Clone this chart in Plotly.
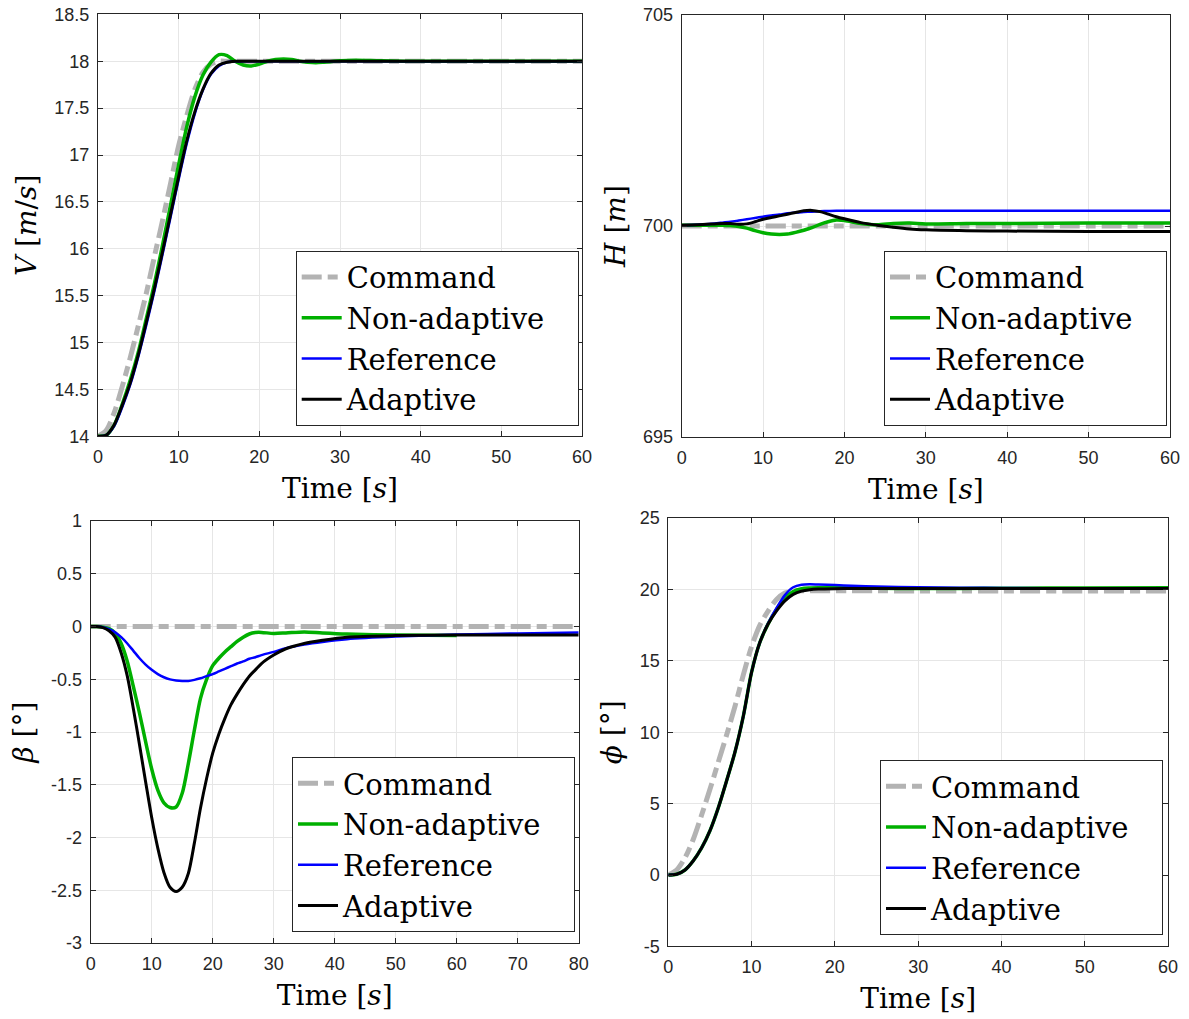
import plotly.graph_objects as go

# ---------------- airspeed V ----------------
t_v = [0, 1, 2, 3, 4, 5, 6, 7, 8, 9, 10, 11, 12, 13, 14, 15, 16, 17, 18, 19, 20,
       21, 22, 23, 24, 25, 26, 27, 28, 30, 32, 35, 40, 50, 60]
v_command = [14.0, 14.06, 14.25, 14.53, 14.84, 15.18, 15.53, 15.92, 16.3, 16.7, 17.1,
             17.42, 17.7, 17.88, 17.97, 18.0, 18.0, 18.0, 18.0, 18.0, 18.0,
             18.0, 18.0, 18.0, 18.0, 18.0, 18.0, 18.0, 18.0, 18.0, 18.0, 18.0, 18.0, 18.0, 18.0]
v_nonadaptive = [14.0, 14.01, 14.12, 14.34, 14.6, 14.9, 15.26, 15.63, 16.04, 16.47, 16.9,
                 17.3, 17.62, 17.85, 17.99, 18.07, 18.06, 18.0, 17.96, 17.95, 17.97,
                 18.0, 18.02, 18.025, 18.02, 18.0, 17.99, 17.985, 17.99, 18.005, 18.01,
                 18.005, 18.0, 18.0, 18.0]
v_reference = [14.0, 14.01, 14.11, 14.31, 14.55, 14.85, 15.19, 15.55, 15.94, 16.34, 16.74,
               17.12, 17.44, 17.69, 17.86, 17.95, 17.99, 18.0, 18.0, 18.0, 18.0,
               18.0, 18.0, 18.0, 18.0, 18.0, 18.0, 18.0, 18.0, 18.0, 18.0, 18.0, 18.0, 18.0, 18.0]
v_adaptive = [14.0, 14.01, 14.12, 14.33, 14.57, 14.87, 15.22, 15.58, 15.97, 16.37, 16.77,
              17.15, 17.46, 17.7, 17.87, 17.96, 17.99, 18.0, 18.0, 18.0, 18.0,
              18.0, 18.0, 18.0, 18.0, 18.0, 18.0, 18.0, 18.0, 18.0, 18.0, 18.0, 18.0, 18.0, 18.0]

# ---------------- altitude H ----------------
t_h = [0, 2, 4, 5, 6, 7, 8, 9, 10, 11, 12, 13, 14, 15, 16, 17, 18, 19, 20,
       22, 24, 26, 28, 30, 35, 40, 50, 60]
h_command = [700.0] * len(t_h)
h_nonadaptive = [700.02, 700.02, 700.02, 700.02, 700.01, 699.99, 699.95, 699.89, 699.84,
                 699.81, 699.8, 699.81, 699.85, 699.9, 699.96, 700.04, 700.1, 700.14, 700.13,
                 700.06, 700.03, 700.06, 700.07, 700.05, 700.06, 700.06, 700.07, 700.07]
h_reference = [700.02, 700.03, 700.06, 700.08, 700.1, 700.13, 700.16, 700.19, 700.22,
               700.25, 700.27, 700.3, 700.32, 700.33, 700.34, 700.35, 700.355, 700.36, 700.36,
               700.36, 700.36, 700.36, 700.36, 700.36, 700.36, 700.36, 700.36, 700.36]
h_adaptive = [700.02, 700.03, 700.05, 700.06, 700.06, 700.04, 700.05, 700.1, 700.16,
              700.2, 700.24, 700.28, 700.32, 700.36, 700.37, 700.34, 700.28, 700.22, 700.17,
              700.08, 700.02, 699.97, 699.93, 699.91, 699.89, 699.88, 699.87, 699.87]

# ---------------- sideslip beta ----------------
t_beta = [0, 1, 2, 3, 4, 5, 6, 7, 8, 9, 10, 11, 12, 13, 14, 15, 16, 17, 18, 19, 20,
          21, 22, 23, 24, 25, 26, 27, 28, 30, 32, 35, 38, 42, 50, 60, 70, 80]
t_beta_nonadaptive = [0, 1, 2, 3, 4, 5, 6, 7, 8, 9, 10, 11, 12, 13, 14, 15, 16, 17, 18, 19, 20,
                      21, 22, 23, 24, 25, 26, 27, 28, 30, 32, 35, 38, 42, 50, 60]
t_beta_command = [0, 80]
beta_command = [0.0, 0.0]
beta_nonadaptive = [0.0, 0.0, -0.005, -0.02, -0.06, -0.16, -0.33, -0.57, -0.82, -1.09, -1.35,
                    -1.55, -1.67, -1.715, -1.71, -1.58, -1.3, -0.98, -0.68, -0.5, -0.37,
                    -0.3, -0.24, -0.19, -0.14, -0.1, -0.07, -0.056, -0.055, -0.065, -0.06,
                    -0.05, -0.06, -0.07, -0.08, -0.085]
beta_reference = [0.0, 0.0, -0.005, -0.025, -0.055, -0.1, -0.16, -0.23, -0.3, -0.36, -0.41,
                  -0.45, -0.48, -0.5, -0.51, -0.515, -0.515, -0.505, -0.49, -0.47, -0.45,
                  -0.425, -0.4, -0.375, -0.35, -0.33, -0.305, -0.29, -0.27, -0.24, -0.205,
                  -0.17, -0.145, -0.12, -0.095, -0.075, -0.065, -0.055]
beta_adaptive = [0.0, 0.0, -0.01, -0.04, -0.1, -0.25, -0.47, -0.78, -1.12, -1.47, -1.81,
                 -2.1, -2.33, -2.47, -2.51, -2.47, -2.34, -2.05, -1.72, -1.44, -1.2,
                 -1.02, -0.87, -0.74, -0.64, -0.55, -0.47, -0.41, -0.35, -0.27, -0.21,
                 -0.16, -0.13, -0.1, -0.085, -0.08, -0.08, -0.08]

# ---------------- bank angle phi ----------------
t_phi = [0, 1, 2, 3, 4, 5, 6, 7, 8, 9, 10, 11, 12, 13, 14, 15, 16, 17, 18, 20,
         22, 25, 30, 35, 40, 50, 60]
phi_command = [0.0, 0.35, 1.2, 2.5, 4.2, 6.0, 7.9, 9.8, 11.8, 14.0, 16.0, 17.5, 18.5, 19.3,
               19.75, 19.9, 19.9, 19.9, 19.9, 19.9, 19.9, 19.9, 19.89, 19.88, 19.88, 19.88, 19.88]
phi_nonadaptive = [0.0, 0.05, 0.35, 1.0, 1.9, 3.1, 4.7, 6.6, 8.6, 11.1, 14.2, 16.3, 17.6,
                   18.6, 19.4, 19.85, 20.05, 20.1, 20.12, 20.12, 20.1, 20.08, 20.06, 20.07,
                   20.08, 20.1, 20.12]
phi_reference = [0.0, 0.05, 0.35, 1.0, 1.9, 3.1, 4.7, 6.6, 8.6, 11.1, 14.2, 16.3, 17.65,
                 18.7, 19.6, 20.15, 20.33, 20.36, 20.34, 20.3, 20.26, 20.2, 20.15, 20.12,
                 20.1, 20.08, 20.07]
phi_adaptive = [0.0, 0.05, 0.35, 1.0, 1.9, 3.1, 4.7, 6.6, 8.6, 11.1, 14.2, 16.3, 17.6,
                18.5, 19.2, 19.65, 19.88, 19.98, 20.02, 20.05, 20.06, 20.07, 20.07, 20.07,
                20.07, 20.07, 20.07]

# tick labels (plain hyphen minus, as in the original plots)
beta_tickvals = [-3, -2.5, -2, -1.5, -1, -0.5, 0, 0.5, 1]
beta_ticktext = ["-3", "-2.5", "-2", "-1.5", "-1", "-0.5", "0", "0.5", "1"]
phi_tickvals = [-5, 0, 5, 10, 15, 20, 25]
phi_ticktext = ["-5", "0", "5", "10", "15", "20", "25"]

series_names = ["Command", "Non-adaptive", "Reference", "Adaptive"]

# ---------------- styling ----------------
W, H = 1189, 1019
CMD_STYLE = dict(color="#b3b3b3", width=5, dash="20px,6px,10px,6px")
NA_STYLE = dict(color="#00b000", width=3.5)
REF_STYLE = dict(color="#0000ff", width=2.5)
AD_STYLE = dict(color="#000000", width=3)
styles = [CMD_STYLE, NA_STYLE, REF_STYLE, AD_STYLE]

SERIF = "DejaVu Serif, Liberation Serif, serif"
SANS = "Liberation Sans, Arial, sans-serif"
AXC = "#262626"
# extra right padding inside the legend boxes
LEGEND_PAD = "\u00a0\u00a0\u00a0"

fig = go.Figure()

panels = [
    # (xaxis, yaxis, legend, [(t, y) for each series])
    ("x", "y", "legend",
     [(t_v, v_command), (t_v, v_nonadaptive), (t_v, v_reference), (t_v, v_adaptive)]),
    ("x2", "y2", "legend2",
     [(t_h, h_command), (t_h, h_nonadaptive), (t_h, h_reference), (t_h, h_adaptive)]),
    ("x3", "y3", "legend3",
     [(t_beta_command, beta_command), (t_beta_nonadaptive, beta_nonadaptive),
      (t_beta, beta_reference), (t_beta, beta_adaptive)]),
    ("x4", "y4", "legend4",
     [(t_phi, phi_command), (t_phi, phi_nonadaptive), (t_phi, phi_reference), (t_phi, phi_adaptive)]),
]

for xa, ya, lg, data in panels:
    for name, style, (tt, yy) in zip(series_names, styles, data):
        fig.add_trace(go.Scatter(
            x=tt, y=yy, name=name + LEGEND_PAD, mode="lines", xaxis=xa, yaxis=ya, legend=lg,
            line=dict(shape="spline", smoothing=0.8, **style),
        ))


def px_x(a, b):
    return [a / W, b / W]


def px_y(top, bottom):
    return [1 - bottom / H, 1 - top / H]


common_axis = dict(
    showline=True, linecolor=AXC, linewidth=1, mirror="allticks",
    ticks="inside", ticklen=5, tickwidth=1, tickcolor=AXC,
    showgrid=True, gridcolor="#e6e6e6", gridwidth=1, zeroline=False,
    tickfont=dict(family=SANS, size=18, color=AXC),
    automargin=False,
)
x_axis = dict(ticklabelstandoff=4, **common_axis)
y_axis = dict(ticklabelstandoff=4, **common_axis)

xtitle = dict(text="Time [<i>s</i>]", font=dict(family=SERIF, size=28, color="black"), standoff=12)


def ytitle(text):
    return dict(text=text, font=dict(family=SERIF, size=28, color="black"), standoff=9)


legend_common = dict(
    bgcolor="white", bordercolor=AXC, borderwidth=1,
    font=dict(family=SERIF, size=29, color="black"),
    xanchor="right", yanchor="bottom", xref="paper", yref="paper",
    itemwidth=40, tracegroupgap=0,
)

fig.update_layout(
    width=W, height=H, autosize=False,
    margin=dict(l=0, r=0, t=0, b=0),
    paper_bgcolor="white", plot_bgcolor="white",
    xaxis=dict(domain=px_x(98, 582), range=[0, 60], dtick=10, anchor="y",
               title=xtitle, **x_axis),
    yaxis=dict(domain=px_y(14.4, 436.3), range=[14, 18.5], dtick=0.5, anchor="x",
               title=ytitle("<i>V</i> [<i>m</i>/<i>s</i>]"), **y_axis),
    xaxis2=dict(domain=px_x(681.7, 1170), range=[0, 60], dtick=10, anchor="y2",
                title=xtitle, **x_axis),
    yaxis2=dict(domain=px_y(15, 437), range=[695, 705], dtick=5, anchor="x2",
                title=ytitle("<i>H</i> [<i>m</i>]"), **y_axis),
    xaxis3=dict(domain=px_x(90.7, 578.7), range=[0, 80], dtick=10, anchor="y3",
                title=xtitle, **x_axis),
    yaxis3=dict(domain=px_y(521.1, 943.1), range=[-3, 1], tickmode="array",
                tickvals=beta_tickvals, ticktext=beta_ticktext, anchor="x3",
                title=ytitle("<i>β</i> [°]"), **y_axis),
    xaxis4=dict(domain=px_x(668.3, 1168), range=[0, 60], dtick=10, anchor="y4",
                title=xtitle, **x_axis),
    yaxis4=dict(domain=px_y(518, 946.4), range=[-5, 25], tickmode="array",
                tickvals=phi_tickvals, ticktext=phi_ticktext, anchor="x4",
                title=ytitle("<i>ϕ</i> [°]"), **y_axis),
    legend=dict(x=578.7 / W, y=1 - 425.7 / H, **legend_common),
    legend2=dict(x=1167 / W, y=1 - 425.7 / H, **legend_common),
    legend3=dict(x=575 / W, y=1 - 932 / H, **legend_common),
    legend4=dict(x=1163 / W, y=1 - 935 / H, **legend_common),
)

fig.write_html("out.html")
